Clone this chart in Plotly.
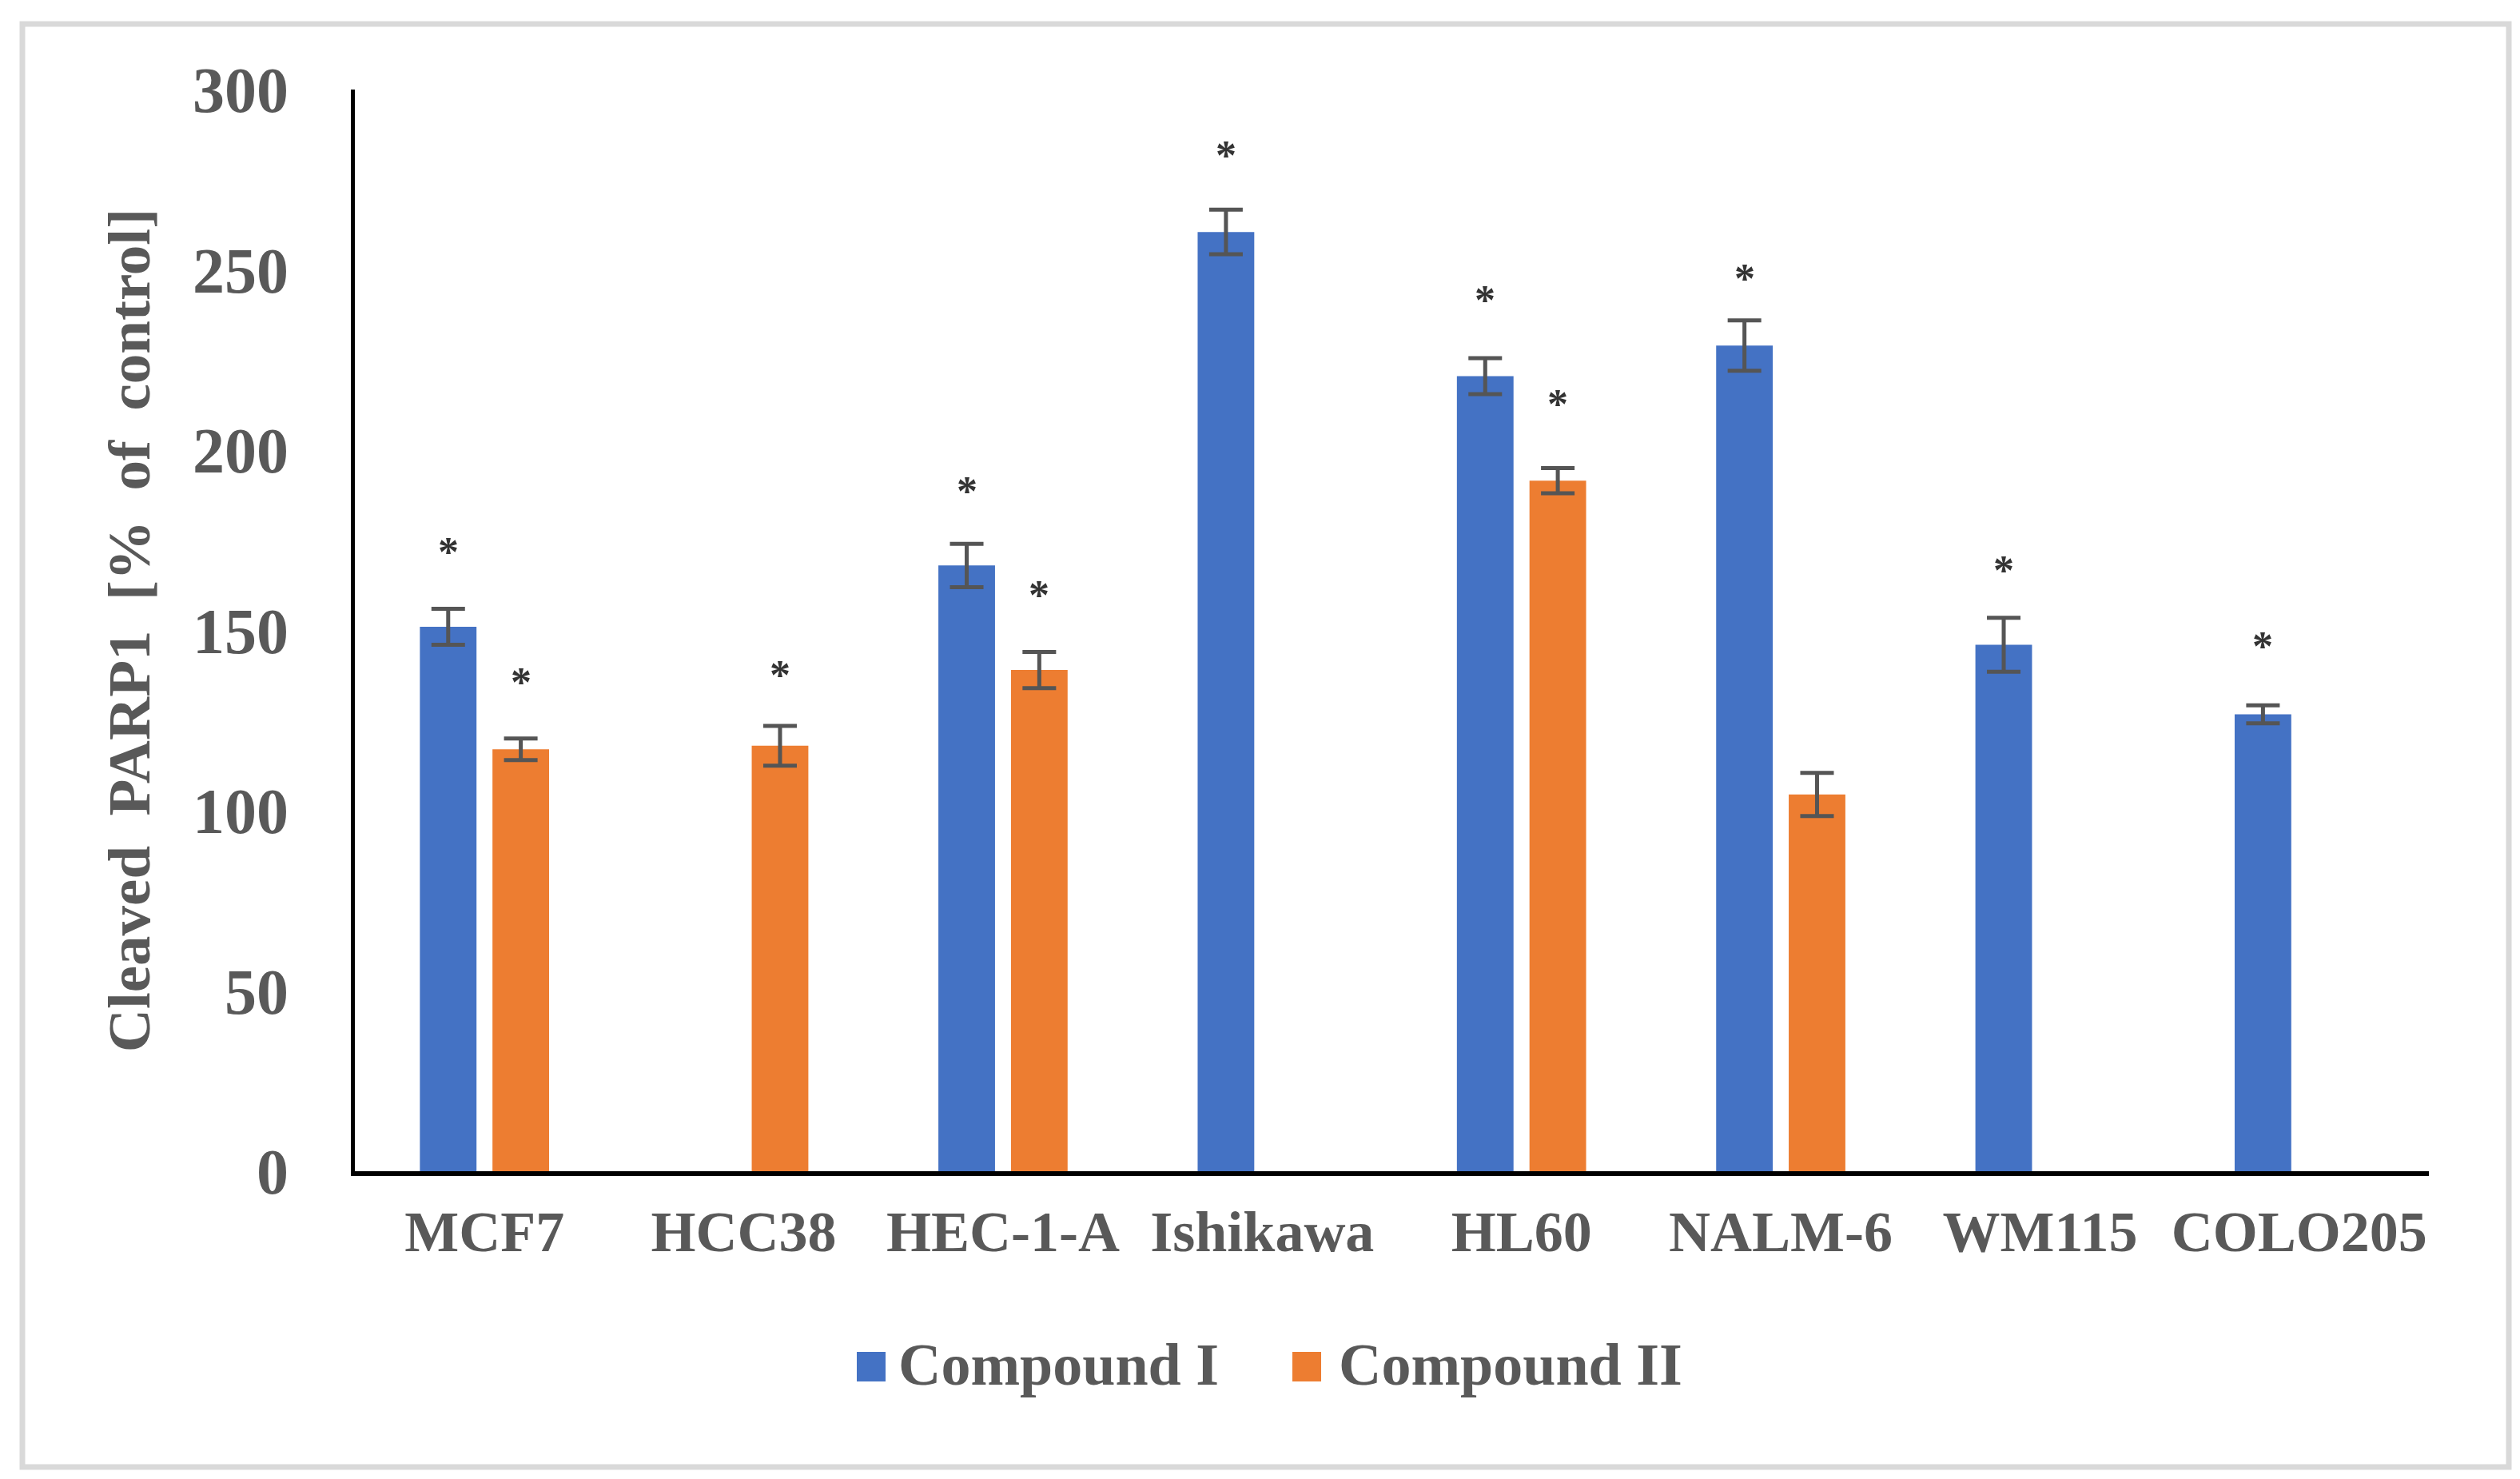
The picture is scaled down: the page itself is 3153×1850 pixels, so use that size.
import plotly.graph_objects as go

# ---- data ----
cell_lines = ["MCF7", "HCC38", "HEC-1-A", "Ishikawa", "HL60", "NALM-6", "WM115", "COLO205"]
compound_i = [151, None, 168, 260.5, 220.5, 229, 146, 126.7]
compound_i_err = [5, None, 6, 6.2, 5, 7, 7.5, 2.5]
compound_ii = [117, 118, 139, None, 191.5, 104.5, None, None]
compound_ii_err = [3, 5.5, 5, None, 3.5, 6, None, None]
# significance marks (y-level of the asterisk), None = no mark
star_i = [173, None, 190, 283, 243, 249, 168, 147]
star_ii = [137, 139, 161, None, 214, None, None, None]
series_names = ["Compound I", "Compound II"]
y_ticks = [0, 50, 100, 150, 200, 250, 300]

# ---- layout constants ----
W, H = 3153, 1850
ML, MR, MT, MB = 436, 122, 104, 393
BARGAP, GROUPGAP = 0.44, 0.22
BLUE, ORANGE = "#4472C4", "#ED7D31"
TXT = "#595959"
FONT = "Liberation Serif"

plot_w = W - ML - MR
plot_h = H - MT - MB
cat_px = plot_w / len(cell_lines)
shift_px = (1 - BARGAP) * cat_px / 4


def px_x(X):
    return (X - ML) / plot_w


def px_y(Y):
    return (H - MB - Y) / plot_h


fig = go.Figure()
for name, vals, errs, col in [
    (series_names[0], compound_i, compound_i_err, BLUE),
    (series_names[1], compound_ii, compound_ii_err, ORANGE),
]:
    fig.add_trace(go.Bar(
        x=cell_lines, y=vals, name=name, marker=dict(color=col, line=dict(width=0)),
        error_y=dict(type="data", array=errs, visible=True, color="#555555",
                     thickness=5, width=21),
        showlegend=False,
    ))

annotations = []
for stars, sgn in [(star_i, -1), (star_ii, 1)]:
    for cat, s in zip(cell_lines, stars):
        if s is None:
            continue
        annotations.append(dict(
            x=cat, y=s, xref="x", yref="y", text="*", showarrow=False,
            xshift=sgn * shift_px, yshift=-6, yanchor="middle",
            font=dict(family=FONT, size=52, color="#333333", weight="bold"),
        ))

# manual legend (large square keys like the reference)
legend_items = [
    (series_names[0], BLUE, 1064, 1114),
    (series_names[1], ORANGE, 1609, 1665),
]
shapes = []
for name, col, kx, tx in legend_items:
    shapes.append(dict(type="rect", xref="paper", yref="paper",
                       x0=px_x(kx), x1=px_x(kx + 36), y0=px_y(1720), y1=px_y(1683),
                       fillcolor=col, line=dict(width=0)))
    annotations.append(dict(x=px_x(tx), y=px_y(1699), xref="paper", yref="paper",
                            text=name, showarrow=False, xanchor="left", yanchor="middle",
                            font=dict(family=FONT, size=74, color=TXT, weight="bold")))

# outer light-gray frame
shapes.append(dict(type="rect", xref="paper", yref="paper", layer="below",
                   x0=px_x(20), x1=px_x(3131), y0=px_y(1827), y1=px_y(22),
                   line=dict(color="#D9D9D9", width=7), fillcolor="rgba(0,0,0,0)"))

nb = "\u00a0"
title_txt = f"Cleaved{nb}{nb}PARP1{nb}{nb}[%{nb}{nb}of{nb}{nb}control]"

fig.update_layout(
    width=W, height=H,
    margin=dict(l=ML, r=MR, t=MT, b=MB, pad=0),
    paper_bgcolor="white", plot_bgcolor="white",
    barmode="group", bargap=BARGAP, bargroupgap=GROUPGAP,
    font=dict(family=FONT, color=TXT, weight="bold"),
    annotations=annotations, shapes=shapes,
    xaxis=dict(
        type="category", showgrid=False, showline=True, linecolor="black", linewidth=6,
        ticks="", tickfont=dict(family=FONT, size=72, color=TXT, weight="bold"),
        ticklabelstandoff=8,
    ),
    yaxis=dict(
        range=[0, 300], tickvals=y_ticks, showgrid=False, zeroline=False,
        showline=True, linecolor="black", linewidth=5, ticks="",
        tickfont=dict(family=FONT, size=80, color=TXT, weight="bold"),
        ticklabelstandoff=62,
        title=dict(text=title_txt, standoff=30,
                   font=dict(family=FONT, size=75, color=TXT, weight="bold")),
    ),
)

fig.write_html("out.html")
